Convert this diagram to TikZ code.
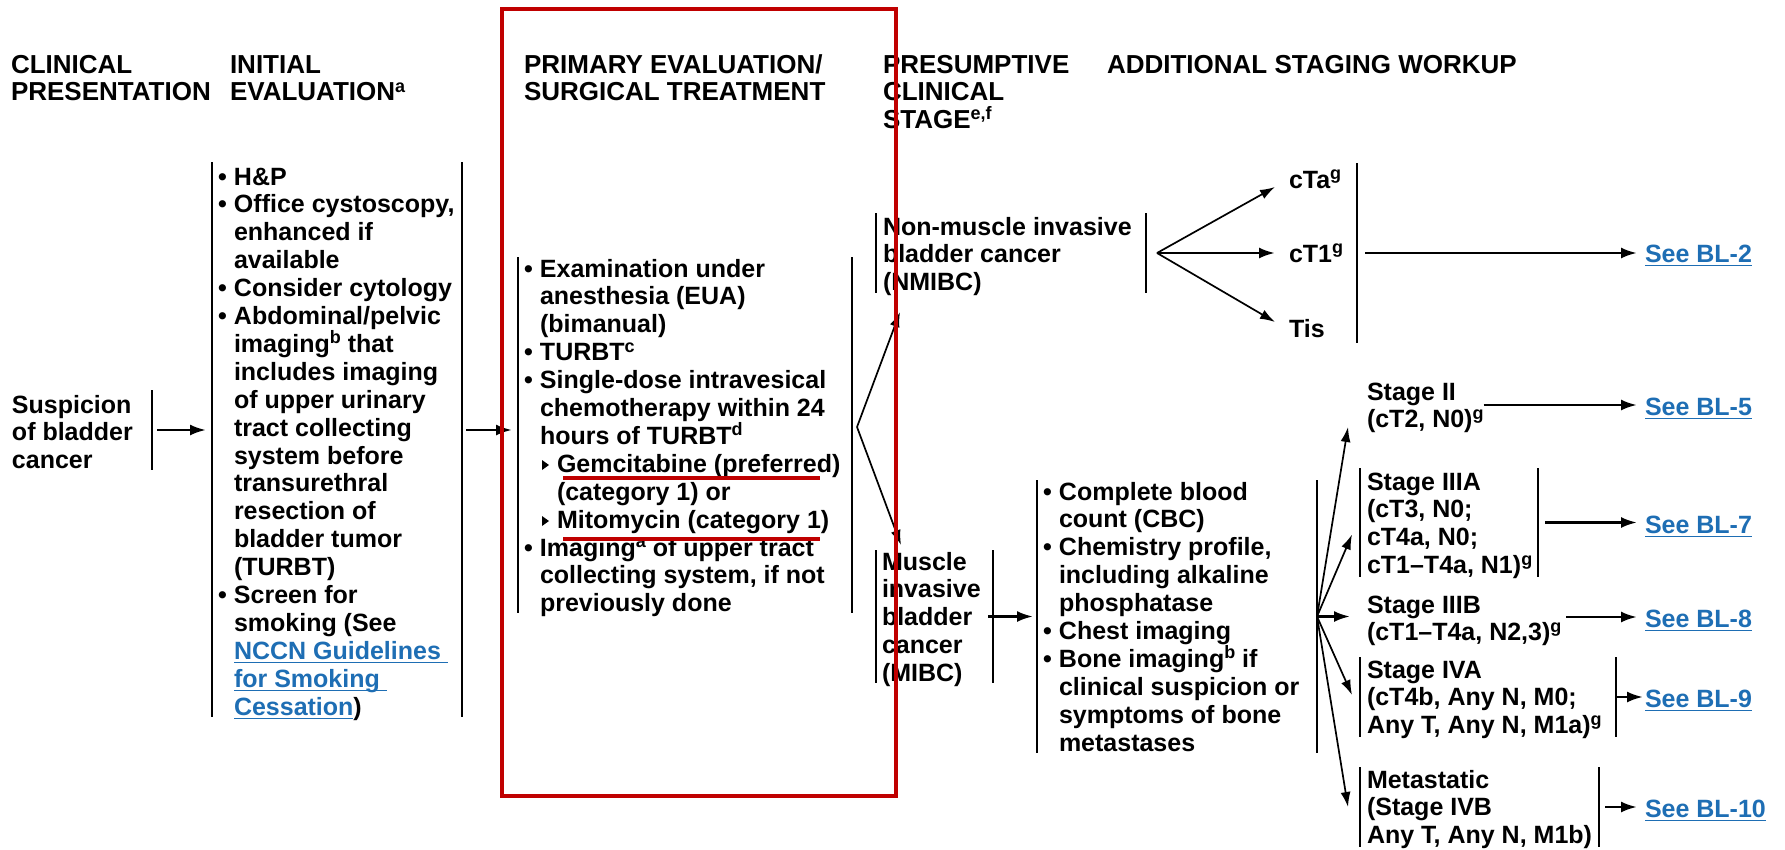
\documentclass[tikz,border=0pt]{standalone}
\usepackage{fontspec}
\setmainfont{Liberation Sans}
\usetikzlibrary{arrows.meta,calc}
\definecolor{nccnred}{RGB}{192,0,0}
\definecolor{linkblue}{RGB}{30,110,180}
\newcommand{\fl}{\rule{0pt}{20pt}}
\newcommand{\spx}[1]{\raisebox{8.5pt}{\fontsize{18}{18}\selectfont #1}}
\newcommand{\bu}{\makebox[16pt][l]{\textbullet}}
\newcommand{\ind}{\hspace*{16pt}}
\newcommand{\subi}{\hspace*{33pt}}
\newsavebox{\lnkbox}
\newcommand{\lnk}[1]{{\color{linkblue}\sbox{\lnkbox}{#1}\rlap{\rule[-4.1pt]{\wd\lnkbox}{1.6pt}}\usebox{\lnkbox}}}
\begin{document}
\begin{tikzpicture}[x=1pt,y=-1pt,
  txt/.style={anchor=north west, inner sep=0pt, outer sep=0pt, align=left,
    font=\fontsize{25}{27.9}\selectfont\bfseries},
  hdr/.style={anchor=north west, inner sep=0pt, outer sep=0pt, align=left,
    font=\fontsize{26}{27.5}\selectfont\bfseries},
  lnkn/.style={anchor=base west, inner sep=0pt, outer sep=0pt,
    text height=20pt, text depth=0pt, font=\fontsize{25}{27.9}\selectfont\bfseries},
  brk/.style={anchor=north west, inner sep=0pt, outer sep=0pt, draw=none},
  barline/.style={line width=2.6pt},
  arr/.style={line width=2.6pt, -{Latex[length=16pt,width=11pt]}},
  fan/.style={line width=1.7pt, -{Latex[length=15pt,width=10pt]}},
  hilite/.style={draw=nccnred, line width=4.5pt},
  redline/.style={draw=nccnred, line width=3.5pt}
]
\useasboundingbox (0,0) rectangle (1785,849);
\fill[white] (0,0) rectangle (1785,849);

% ---------- headers ----------
\node[hdr] (hClin) at (11,53) {\fl CLINICAL\\PRESENTATION};
\node[hdr] (hInit) at (230,53) {\fl INITIAL\\EVALUATION\spx{a}};
\node[hdr] (hPrim) at (524,53) {\fl PRIMARY EVALUATION/\\SURGICAL TREATMENT};
\node[hdr] (hPres) at (883,53) {\fl PRESUMPTIVE\\CLINICAL\\STAGE\spx{e,f}};
\node[hdr] (hAdd) at (1107,53) {\fl ADDITIONAL STAGING WORKUP};

% ---------- bracket frames ----------
\node[brk, minimum width=140pt, minimum height=80pt] (suspbr) at (12,390) {};
\node[brk, minimum width=250pt, minimum height=555pt] (initbr) at (212,162) {};
\node[brk, minimum width=334pt, minimum height=356pt] (primbr) at (518,257) {};
\node[brk, minimum width=270pt, minimum height=80pt] (nmbr) at (876,213) {};
\node[brk, minimum width=68pt, minimum height=180pt] (ctbr) at (1289,163) {};
\node[brk, minimum width=117pt, minimum height=133pt] (mibcbr) at (876,550) {};
\node[brk, minimum width=280pt, minimum height=273pt] (wkbr) at (1037,480) {};
\node[brk, minimum width=178pt, minimum height=109pt] (iiiabr) at (1360,468) {};
\node[brk, minimum width=256pt, minimum height=80pt] (ivabr) at (1360,657) {};
\node[brk, minimum width=239pt, minimum height=80pt] (metbr) at (1360,767) {};

\draw[barline] (suspbr.north east) -- (suspbr.south east);
\draw[barline] (ctbr.north east) -- (ctbr.south east);
\foreach \b in {initbr,primbr,nmbr,mibcbr,wkbr,iiiabr,ivabr,metbr}{
  \draw[barline] (\b.north west) -- (\b.south west);
  \draw[barline] (\b.north east) -- (\b.south east);
}

% ---------- text blocks ----------
\node[txt] (susp) at (12,393) {\fl Suspicion\\of bladder\\cancer};

\node[txt] (init) at (218,165) {\fl\bu H\&P\\
\bu Office cystoscopy,\\
\ind enhanced if\\
\ind available\\
\bu Consider cytology\\
\bu Abdominal/pelvic\\
\ind imaging\spx{b} that\\
\ind includes imaging\\
\ind of upper urinary\\
\ind tract collecting\\
\ind system before\\
\ind transurethral\\
\ind resection of\\
\ind bladder tumor\\
\ind (TURBT)\\
\bu Screen for\\
\ind smoking (See\\
\ind \lnk{NCCN Guidelines }\\
\ind \lnk{for Smoking }\\
\ind \lnk{Cessation})};

\node[txt] (prim) at (524,257) {\fl\bu Examination under\\
\ind anesthesia (EUA)\\
\ind (bimanual)\\
\bu TURBT\spx{c}\\
\bu Single-dose intravesical\\
\ind chemotherapy within 24\\
\ind hours of TURBT\spx{d}\\
\subi Gemcitabine (preferred)\\
\subi (category 1) or\\
\subi Mitomycin (category 1)\\
\bu Imaging\spx{a} of upper tract\\
\ind collecting system, if not\\
\ind previously done};
\fill (542,460) -- (542,470) -- (549,465) -- cycle;
\fill (542,516) -- (542,526) -- (549,521) -- cycle;

\node[txt] (nmibc) at (883,215) {\fl Non-muscle invasive\\bladder cancer\\(NMIBC)};
\node[txt] (cTa) at (1289,168) {\fl cTa\spx{g}};
\node[txt] (cT1) at (1289,242) {\fl cT1\spx{g}};
\node[txt] (Tis) at (1289,317) {\fl Tis};

\node[txt] (mibc) at (882,550) {\fl Muscle\\invasive\\bladder\\cancer\\(MIBC)};

\node[txt] (wk) at (1043,480) {\fl\bu Complete blood\\
\ind count (CBC)\\
\bu Chemistry profile,\\
\ind including alkaline\\
\ind phosphatase\\
\bu Chest imaging\\
\bu Bone imaging\spx{b} if\\
\ind clinical suspicion or\\
\ind symptoms of bone\\
\ind metastases};

\node[txt] (stII) at (1367,380) {\fl Stage II\\(cT2, N0)\spx{g}};
\node[txt] (stIIIA) at (1367,470) {\fl Stage IIIA\\(cT3, N0;\\cT4a, N0;\\cT1\textendash T4a, N1)\spx{g}};
\node[txt] (stIIIB) at (1367,593) {\fl Stage IIIB\\(cT1\textendash T4a, N2,3)\spx{g}};
\node[txt] (stIVA) at (1367,658) {\fl Stage IVA\\(cT4b, Any N, M0;\\Any T, Any N, M1a)\spx{g}};
\node[txt] (stIVB) at (1367,768) {\fl Metastatic\\(Stage IVB\\Any T, Any N, M1b)};

\node[lnkn] (bl2) at (1645,262) {\lnk{See BL-2}};
\node[lnkn] (bl5) at (1645,415) {\lnk{See BL-5}};
\node[lnkn] (bl7) at (1645,533) {\lnk{See BL-7}};
\node[lnkn] (bl8) at (1645,627) {\lnk{See BL-8}};
\node[lnkn] (bl9) at (1645,707) {\lnk{See BL-9}};
\node[lnkn] (bl10) at (1645,817) {\lnk{See BL-10}};

% ---------- connectors ----------
\draw[arr, shorten <=5pt, shorten >=6pt] (suspbr.east) -- (suspbr.east -| initbr.west);
\draw[arr, shorten <=4pt, shorten >=6pt] (suspbr.east -| initbr.east) -- (suspbr.east -| primbr.west);

\coordinate (pfan) at ($(primbr.east)+(5,-8)$);
\coordinate (pfanN) at ($(nmbr.south west)+(24,19)$);
\coordinate (pfanM) at ($(mibcbr.north west)+(25,-5)$);
\draw[fan] (pfan) -- (pfanN);
\draw[fan] (pfan) -- (pfanM);

\coordinate (nfan) at ($(nmbr.east)+(11,0)$);
\draw[fan] (nfan) -- ($(cTa.north west)+(-14,19)$);
\draw[arr] (nfan) -- ($(cT1.north west)+(-14,11)$);
\draw[fan] (nfan) -- ($(Tis.north west)+(-14,5)$);
\draw[arr, shorten <=8pt, shorten >=8pt] (ctbr.east) -- (ctbr.east -| bl2.west);

\draw[arr, shorten <=-5pt, shorten >=4pt] (mibcbr.east) -- (mibcbr.east -| wkbr.west);

\coordinate (wfan) at (wkbr.east);
\draw[fan] (wfan) -- ($(stII.north west)+(-19,47)$);
\draw[fan] (wfan) -- ($(iiiabr.west)+(-8,12)$);
\draw[arr, shorten >=17pt] (wfan) -- (wfan -| stIIIB.west);
\draw[fan] (wfan) -- ($(ivabr.west)+(-8,-2)$);
\draw[fan] (wfan) -- ($(metbr.west)+(-12,0)$);

\draw[arr, shorten >=8pt] (stII.east |- bl5.west) -- (bl5.west);
\draw[arr, shorten <=7pt, shorten >=8pt] (iiiabr.east) -- (iiiabr.east -| bl7.west);
\draw[arr, shorten <=5pt, shorten >=8pt] (stIIIB.east |- bl8.west) -- (bl8.west);
\draw[arr, shorten <=1pt, shorten >=2pt] (ivabr.east) -- (ivabr.east -| bl9.west);
\draw[arr, shorten <=6pt, shorten >=8pt] (metbr.east) -- (metbr.east -| bl10.west);

% ---------- red highlight ----------
\draw[redline] (563,478) -- (820,478);
\draw[redline] (563,539) -- (820,539);
\draw[hilite] (502,9) rectangle (896,796);
\end{tikzpicture}
\end{document}
